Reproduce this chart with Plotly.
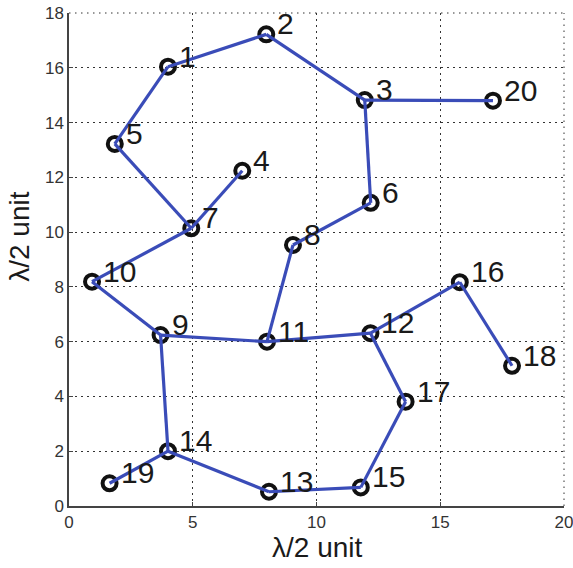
import plotly.graph_objects as go

# Node positions (in half-wavelength units)
node_ids = list(range(1, 21))
node_x = [4.0, 7.97, 11.95, 7.0, 1.85, 12.19, 4.94, 9.05, 3.7, 0.93,
          8.0, 12.18, 8.08, 4.0, 11.79, 15.79, 13.6, 17.9, 1.64, 17.13]
node_y = [16.04, 17.22, 14.82, 12.24, 13.22, 11.07, 10.14, 9.53, 6.24, 8.19,
          6.0, 6.31, 0.52, 2.0, 0.68, 8.17, 3.81, 5.12, 0.83, 14.8]

# Links between nodes
edges = [(1, 2), (2, 3), (3, 20), (3, 6), (6, 8), (8, 11), (9, 11), (11, 12),
         (12, 16), (16, 18), (12, 17), (17, 15), (15, 13), (13, 14), (14, 19),
         (14, 9), (9, 10), (10, 7), (7, 4), (7, 5), (5, 1)]

x_ticks = [0, 5, 10, 15, 20]
y_ticks = [0, 2, 4, 6, 8, 10, 12, 14, 16, 18]
axis_label = "λ/2 unit"

FONT = "Liberation Sans, Arial, sans-serif"
BLUE = "#3a4cb8"
GRID = "#333333"
DOT = "1.5px,4.5px"

ex, ey = [], []
for a, b in edges:
    ex += [node_x[a - 1], node_x[b - 1], None]
    ey += [node_y[a - 1], node_y[b - 1], None]

fig = go.Figure()
fig.add_trace(go.Scatter(
    x=node_x, y=node_y, mode="markers",
    marker=dict(symbol="circle-open", size=14, color="#111111",
                line=dict(width=4, color="#111111")),
    hoverinfo="skip", showlegend=False))
fig.add_trace(go.Scatter(
    x=ex, y=ey, mode="lines", line=dict(color=BLUE, width=3.2),
    hoverinfo="skip", showlegend=False))

for i, x, y in zip(node_ids, node_x, node_y):
    fig.add_annotation(x=x, y=y, text=str(i), showarrow=False,
                       xanchor="left", yanchor="bottom", xshift=9, yshift=-8,
                       font=dict(family=FONT, size=30, color="#1a1a1a"))

axis_common = dict(
    showline=True, linecolor="#444444", linewidth=1.5, mirror=False,
    ticks="inside", ticklen=4, tickcolor="#444444", tickwidth=1,
    showgrid=True, gridcolor=GRID, gridwidth=1, griddash=DOT,
    zeroline=False, tickfont=dict(family=FONT, size=17, color="#333333"),
    ticklabeloverflow="allow", automargin=False,
)

fig.update_xaxes(range=[0, 20], tickvals=x_ticks, **axis_common)
fig.update_yaxes(range=[0, 18], tickvals=y_ticks, **axis_common)

# dotted grid lines along the top and right edges of the plot area
fig.add_shape(type="line", xref="paper", yref="paper", x0=0, x1=1, y0=1, y1=1,
              line=dict(color=GRID, width=1, dash=DOT))
fig.add_shape(type="line", xref="paper", yref="paper", x0=1, x1=1, y0=0, y1=1,
              line=dict(color=GRID, width=1, dash=DOT))

# axis titles
fig.add_annotation(text=axis_label, xref="paper", yref="paper", x=0.5, y=-0.085,
                   xanchor="center", yanchor="middle", showarrow=False,
                   font=dict(family=FONT, size=28, color="#1a1a1a"))
fig.add_annotation(text=axis_label, xref="paper", yref="paper", x=-0.1, y=0.545,
                   xanchor="center", yanchor="middle", showarrow=False, textangle=-90,
                   font=dict(family=FONT, size=28, color="#1a1a1a"))

fig.update_layout(
    width=573, height=568,
    margin=dict(l=69, r=9, t=13, b=62, autoexpand=False),
    plot_bgcolor="white", paper_bgcolor="white",
)

fig.write_html("out.html")
